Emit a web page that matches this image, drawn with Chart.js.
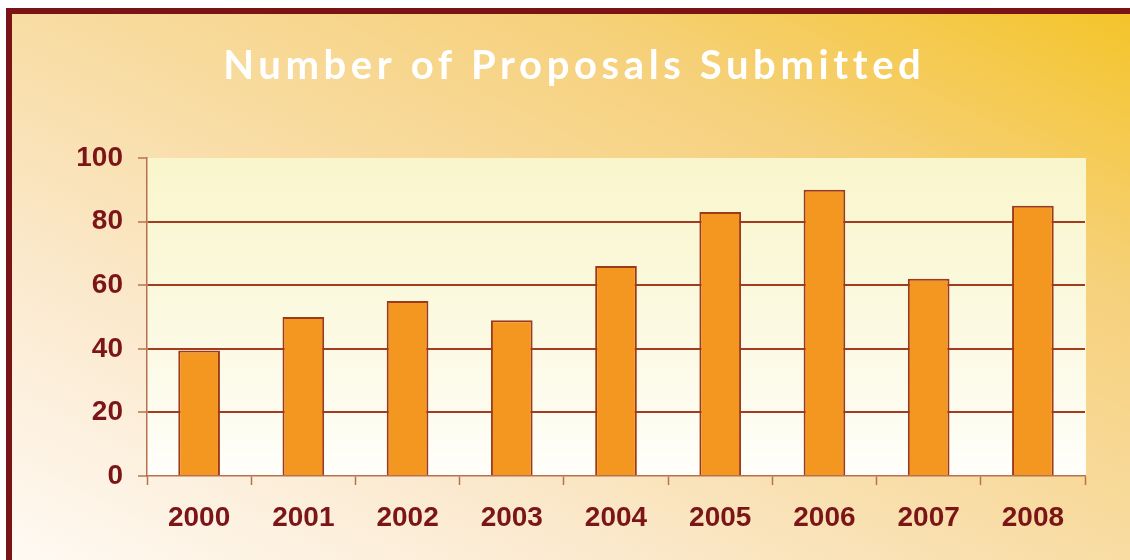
<!DOCTYPE html>
<html>
<head>
<meta charset="utf-8">
<title>Number of Proposals Submitted</title>
<script src="https://cdn.jsdelivr.net/npm/chart.js@4"></script>
<style>
  html, body { margin: 0; padding: 0; background: #fff; overflow: hidden; }
  .frame {
    position: absolute; left: 6px; top: 8px; width: 1130px; height: 560px;
    box-sizing: border-box;
    border-left: 6px solid #7a1315; border-top: 6px solid #7a1315;
    background: linear-gradient(to bottom left, #f4c42a 0%, #f6d17c 26%, #f8dca3 50%, #fbead0 74%, #fffaf4 100%);
  }
  #chart { position: absolute; left: 0; top: 0; }
</style>
</head>
<body>
<div class="frame"></div>
<canvas id="chart" width="1130" height="560"></canvas>
<script>
// data
const years = ['2000', '2001', '2002', '2003', '2004', '2005', '2006', '2007', '2008'];
const proposals = [39.5, 50, 55, 49, 66, 83, 90, 62, 85];
const chartTitle = 'Number of Proposals Submitted';

const DARK_RED = '#7b1518';
const GRID = '#a33c1f';
const AXIS = '#b8704f';
const TICK_FONT = { family: "'Liberation Sans', Arial, sans-serif", size: 28, weight: 'bold' };

// pale yellow plot background + letter-spaced title
const plotBackground = {
    id: 'plotBackground',
    beforeDraw(chart) {
        const { ctx, chartArea: a } = chart;
        const g = ctx.createLinearGradient(0, a.top, 0, a.bottom);
        g.addColorStop(0, '#f9f6cc');
        g.addColorStop(0.5, '#fbf9e0');
        g.addColorStop(1, '#fffefa');
        ctx.save();
        ctx.fillStyle = g;
        ctx.fillRect(a.left, a.top, a.right - a.left + 1, a.bottom - a.top);
        ctx.restore();

        const block = chart.titleBlock;
        if (block && !block._spaced) {
            const orig = block.draw;
            block.draw = function () {
                const c = this.ctx;
                c.save();
                c.font = '700 40px Lato';
                const plain = c.measureText(chartTitle).width;
                const gap = (696 - plain) / (chartTitle.length - 1);
                c.letterSpacing = gap + 'px';
                const center = (this.left + this.right) / 2;
                c.translate(572 - center + gap / 2, 2);
                orig.call(this);
                c.restore();
            };
            block._spaced = true;
        }
    }
};

new Chart(document.getElementById('chart'), {
    type: 'bar',
    data: {
        labels: years,
        datasets: [{
            data: proposals,
            backgroundColor: '#f39720',
            borderColor: '#9e3a1c',
            borderWidth: 2,
            barPercentage: 0.4,
            categoryPercentage: 1
        }]
    },
    options: {
        responsive: false,
        animation: false,
        layout: { padding: { left: 0, right: 45, top: 0, bottom: 0 } },
        plugins: {
            legend: { display: false },
            tooltip: { enabled: false },
            title: {
                display: true,
                text: chartTitle,
                color: '#ffffff',
                font: { family: 'Lato', size: 40, weight: 'bold' },
                padding: { top: 40, bottom: 70 }
            }
        },
        scales: {
            x: {
                grid: { drawOnChartArea: false, drawTicks: true, tickLength: 9, tickColor: AXIS, tickWidth: 1.5, offset: true },
                border: { color: AXIS, width: 1.5 },
                ticks: { color: DARK_RED, font: TICK_FONT, padding: 16 },
                afterFit: s => { s.height = 84; }
            },
            y: {
                min: 0,
                max: 100,
                ticks: { stepSize: 20, color: DARK_RED, font: TICK_FONT, padding: 15 },
                grid: {
                    color: ctx => (ctx.tick && (ctx.tick.value === 0 || ctx.tick.value === 100)) ? 'rgba(0,0,0,0)' : GRID,
                    lineWidth: 2,
                    tickLength: 9,
                    tickColor: AXIS,
                    tickWidth: 1.5
                },
                border: { color: AXIS, width: 1.5 },
                afterFit: s => { s.width = 147; }
            }
        }
    },
    plugins: [plotBackground]
});
</script>
</body>
</html>
